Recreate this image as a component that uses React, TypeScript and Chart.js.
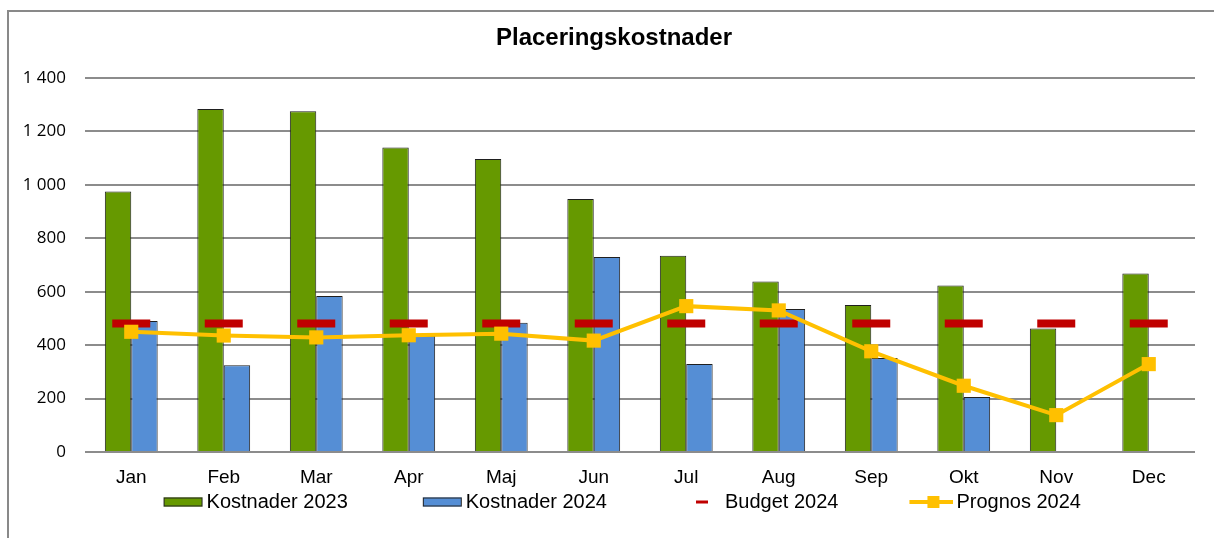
import React, { useEffect, useRef } from "react";
import { Chart, registerables } from "chart.js";

Chart.register(...registerables);

const categories = ["Jan", "Feb", "Mar", "Apr", "Maj", "Jun", "Jul", "Aug", "Sep", "Okt", "Nov", "Dec"];
const kostnader2023 = [975, 1284, 1276, 1140, 1097, 947, 735, 638, 550, 623, 462, 668];
const kostnader2024 = [490, 325, 584, 435, 484, 730, 329, 535, 352, 206, null, null];
const budget2024 = [481, 481, 481, 481, 481, 481, 481, 481, 481, 481, 481, 481];
const prognos2024 = [450, 436, 429, 437, 443, 417, 546, 530, 377, 248, 138, 329];
const yTicks = [0, 200, 400, 600, 800, 1000, 1200, 1400];

const GREEN = "#669900";
const BLUE = "#558ED5";
const RED = "#C00000";
const YELLOW = "#FFC000";
const GRID = "#8c8c8c";
const FONT = "'Liberation Sans', Arial, sans-serif";

function makeSymbol(kind: string): HTMLCanvasElement {
  const c = document.createElement("canvas");
  c.width = 85;
  c.height = 16;
  const ctx = c.getContext("2d")!;
  const cy = 8;
  if (kind === "green" || kind === "blue") {
    ctx.fillStyle = kind === "green" ? GREEN : BLUE;
    ctx.fillRect(45, cy - 4.5, 39, 9);
    ctx.strokeStyle = "#222";
    ctx.lineWidth = 1;
    ctx.strokeRect(45.5, cy - 4, 38, 8);
  } else if (kind === "red") {
    ctx.fillStyle = RED;
    ctx.fillRect(59, cy - 1.5, 12, 3);
  } else {
    ctx.fillStyle = YELLOW;
    ctx.fillRect(41, cy - 2, 44, 4);
    ctx.fillRect(59, cy - 6, 12, 12);
  }
  return c;
}

const placeBlocks = {
  id: "placeBlocks",
  afterLayout(chart: any) {
    const lg = chart.legend;
    if (lg) {
      const h = lg.bottom - lg.top;
      lg.top = 443;
      lg.bottom = 443 + h;
      lg.left = 2.5;
      lg.right = 1186;
    }
    const tb = chart.titleBlock;
    if (tb) {
      tb.left = 24;
      tb.right = 1186;
    }
  },
};

export default function App() {
  const ref = useRef<HTMLCanvasElement | null>(null);

  useEffect(() => {
    document.documentElement.style.overflow = "hidden";
    const canvas = ref.current!;
    const symbols = [makeSymbol("green"), makeSymbol("blue"), makeSymbol("red"), makeSymbol("yellow")];
    const names = ["Kostnader 2023", "Kostnader 2024", "Budget 2024", "Prognos 2024"];
    const chart = new Chart(canvas, {
      type: "bar",
      plugins: [placeBlocks],
      data: {
        labels: categories,
        datasets: [
          {
            type: "bar",
            label: "Kostnader 2023",
            data: kostnader2023,
            backgroundColor: GREEN,
            borderColor: "#1f1f1f",
            borderWidth: 1,
            barPercentage: 1,
            categoryPercentage: 0.571,
            order: 3,
          },
          {
            type: "bar",
            label: "Kostnader 2024",
            data: kostnader2024,
            backgroundColor: BLUE,
            borderColor: "#1f1f1f",
            borderWidth: 1,
            barPercentage: 1,
            categoryPercentage: 0.571,
            order: 4,
          },
          {
            type: "line",
            label: "Budget 2024",
            data: budget2024,
            showLine: false,
            pointStyle: "line",
            pointRadius: 19,
            pointHoverRadius: 19,
            pointBorderWidth: 8,
            pointBorderColor: RED,
            pointBackgroundColor: RED,
            borderColor: RED,
            backgroundColor: RED,
            order: 2,
          },
          {
            type: "line",
            label: "Prognos 2024",
            data: prognos2024,
            borderColor: YELLOW,
            backgroundColor: YELLOW,
            borderWidth: 4,
            pointStyle: "rect",
            pointRadius: 10,
            pointHoverRadius: 10,
            pointBorderWidth: 0,
            pointBackgroundColor: YELLOW,
            tension: 0,
            order: 1,
          },
        ],
      },
      options: {
        animation: false,
        responsive: false,
        maintainAspectRatio: false,
        events: [],
        layout: { autoPadding: false, padding: { left: 2.5, right: 19, top: 0, bottom: 0 } },
        plugins: {
          tooltip: { enabled: false },
          title: {
            display: true,
            text: "Placeringskostnader",
            color: "#000",
            font: { family: FONT, size: 24, weight: "bold", lineHeight: 1.2 },
            padding: { top: 12.3, bottom: 24.9 },
          },
          legend: {
            display: true,
            position: "bottom",
            labels: {
              usePointStyle: true,
              pointStyleWidth: 71,
              padding: 37,
              color: "#000",
              font: { family: FONT, size: 20 },
              generateLabels: () =>
                names.map((n, i) => ({
                  text: n,
                  pointStyle: symbols[i],
                  fillStyle: "transparent",
                  strokeStyle: "transparent",
                  lineWidth: 0,
                  hidden: false,
                  datasetIndex: i,
                  fontColor: "#000",
                })),
            },
          },
        },
        scales: {
          x: {
            offset: true,
            grid: { display: false, drawTicks: false },
            border: { display: false },
            ticks: {
              color: "#000",
              padding: 14,
              maxRotation: 0,
              autoSkip: false,
              font: { family: FONT, size: 19 },
            },
            afterFit: (s: any) => {
              s.height = 40;
              s.paddingLeft = 0;
              s.paddingRight = 0;
            },
          },
          y: {
            min: 0,
            max: 1400,
            afterBuildTicks: (s: any) => {
              s.ticks = yTicks.map((v) => ({ value: v }));
            },
            grid: { color: GRID, lineWidth: 2, drawTicks: false },
            border: { display: false },
            ticks: {
              color: "#000",
              padding: 19,
              font: { family: "'Open Sans', sans-serif", size: 17 },
              callback: (v: any) => {
                const n = Number(v);
                return n >= 1000 ? Math.floor(n / 1000) + " " + String(n % 1000).padStart(3, "0") : String(n);
              },
            },
            afterFit: (s: any) => {
              s.width = 73.5;
            },
          },
        },
      },
    });
    return () => chart.destroy();
  }, []);

  return (
    <div
      style={{
        position: "fixed",
        left: 7,
        top: 10,
        width: 1207,
        height: 528,
        boxSizing: "border-box",
        borderTop: "2px solid #898989",
        borderLeft: "2px solid #898989",
        overflow: "hidden",
        background: "#fff",
      }}
    >
      <canvas
        ref={ref}
        width={1205}
        height={547}
        style={{ display: "block", position: "absolute", left: 0, top: 0, width: 1205, height: 547 }}
      />
    </div>
  );
}
